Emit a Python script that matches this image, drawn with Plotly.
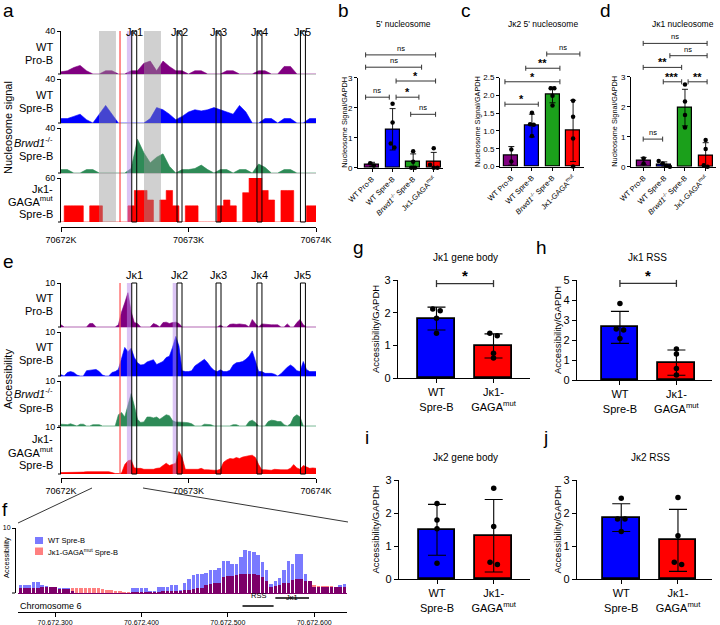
import numpy as np
import plotly.graph_objects as go

W, H = 720, 625
FONT = "Liberation Sans, Arial, Helvetica, sans-serif"

# ------------------------------------------------------------------ data
G0 = 70672000
GENE_NAMES = ["Jκ1", "Jκ2", "Jκ3", "Jκ4", "Jκ5"]
GENE_START = [70672555, 70672910, 70673216, 70673537, 70673878]
GENE_END = [70672594, 70672949, 70673255, 70673576, 70673917]
RSS_REGIONS = [(70672517, 70672553), (70672876, 70672908)]
NUC_REGIONS = [(70672298, 70672431), (70672651, 70672784)]
GAGA_SITE = 70672463
GENOME_TICKS = [70672000, 70673000, 70674000]
GENOME_TICKTEXT = ["70672K", "70673K", "70674K"]

# panel a: nucleosome signal, 50 bp bins from 70672000
A_STEP = 50
A_PROB = [2, 3, 6, 8, 3, 0, 0, 3, 3, 0, 0, 3, 3, 10, 12, 3, 12, 7, 3, 3, 0,
          3, 3, 0, 0, 0, 3, 3, 0, 0, 0, 3, 3, 0, 0, 7, 7, 0, 0, 0, 0]
A_SPRE = [4, 4, 6, 8, 3, 0, 8, 16, 8, 0, 0, 0, 0, 0, 4, 14, 12, 8, 3, 6, 10,
          12, 11, 12, 14, 12, 10, 8, 16, 10, 0, 0, 4, 4, 0, 4, 4, 0, 0, 4, 4]
A_BRWD = [3, 3, 0, 0, 3, 3, 0, 0, 0, 0, 0, 4, 30, 18, 9, 14, 17, 6, 0, 3, 3,
          4, 7, 3, 0, 3, 3, 0, 3, 3, 0, 8, 5, 0, 0, 3, 3, 0, 0, 0, 0]
A_GAGA = [0, 22, 22, 22, 0, 22, 22, 0, 0, 0, 0, 22, 43, 43, 30, 0, 30, 43, 22, 0, 22,
          22, 0, 0, 0, 22, 30, 22, 0, 40, 60, 60, 43, 30, 0, 43, 43, 0, 0, 22, 22]
A_MAX = [40, 40, 40, 60]

# panel e: accessibility, 25 bp bins from 70672000
E_STEP = 25
E_PROB = [0.5, 0, 0, 0, 0, 0, 0, 0, 0, 0.8,
          0.8, 0, 0, 0, 0, 0, 0, 0, 0.5, 3.4,
          5.5, 7.8, 3.5, 1.0, 0.8, 0, 0, 0, 0, 0.8,
          0.5, 0, 1.0, 1.1, 0.8, 1.0, 1.1, 0.8, 0, 0,
          0, 0, 0, 0, 0, 0, 0, 0, 0, 0,
          0.4, 0, 0, 0.6, 0.7, 0.6, 0.7, 0.6, 0.5, 0,
          1.7, 0.8, 0, 0.7, 0.6, 0.5, 0.5, 0.5, 0.5, 0,
          0, 0.7, 0, 0, 1.0, 1.7, 0.5, 0, 0, 0,
          0]
E_SPRE = [0.3, 0, 0.8, 1.0, 0.8, 0.2, 0, 0, 1.2, 1.3,
          1.5, 1.5, 1.0, 0.2, 0, 0, 0.8, 1.0, 1.5, 4.0,
          6.5, 5.5, 6.3, 4.2, 3.0, 2.5, 2.6, 3.2, 3.5, 3.7,
          2.6, 3.0, 3.3, 4.2, 4.5, 6.5, 9.0, 6.8, 1.2, 1.0,
          1.0, 1.2, 2.3, 2.8, 3.3, 3.8, 3.0, 2.0, 1.3, 1.0,
          1.4, 1.0, 1.0, 1.3, 2.5, 3.0, 3.1, 3.3, 3.8, 4.5,
          5.7, 3.5, 1.0, 1.0, 0.6, 0.6, 0.6, 0.4, 0, 0.5,
          1.3, 2.0, 2.5, 2.0, 1.2, 1.0, 3.3, 1.5, 1.0, 1.0,
          1.0]
E_BRWD = [0.4, 0.4, 0.3, 0.5, 0.3, 0, 0.4, 0.4, 0, 0,
          0.3, 0.3, 0.3, 0, 0, 0, 0, 0, 2.5, 3.0,
          2.0, 4.5, 7.2, 4.5, 1.5, 0.8, 0.9, 2.0, 2.0, 1.8,
          2.0, 1.5, 2.0, 2.5, 2.3, 1.2, 0.9, 0.9, 0.8, 0.8,
          0.7, 0.5, 0, 0, 0, 0.4, 0.4, 0.3, 0, 0,
          0, 0, 0, 0, 0.3, 0.3, 0, 0, 0, 1.0,
          1.3, 0.8, 0, 0, 0, 1.0, 1.3, 1.2, 1.0, 1.0,
          0.3, 0, 0.5, 2.0, 2.5, 2.0, 0, 0, 0, 0,
          0]
E_GAGA = [0.3, 0.3, 0.3, 0.3, 0.4, 0.4, 0.3, 0.4, 0.5, 0.5,
          0.5, 0.5, 0.5, 0.5, 0.5, 0.5, 0.3, 0.1, 0.1, 0.2,
          2.0, 2.8, 3.0, 1.3, 1.2, 1.2, 1.0, 1.0, 1.1, 1.0,
          1.2, 1.3, 1.8, 2.3, 1.8, 2.0, 2.3, 4.8, 3.5, 1.0,
          1.0, 0.9, 0.9, 1.0, 1.2, 0.9, 0.9, 0.8, 0.8, 0.8,
          1.0, 2.5, 3.0, 3.3, 3.2, 3.5, 3.3, 3.6, 3.8, 3.9,
          4.0, 3.5, 2.0, 0.9, 0.9, 0.9, 0.8, 1.0, 0.9, 0.9,
          0.9, 0.9, 1.2, 2.0, 1.3, 1.0, 1.8, 1.5, 1.2, 1.3,
          1.2]
E_MAX = 10

# panel f: zoomed accessibility, 5 bp bins from 70672255
F_START, F_STEP = 70672255, 5
F_WT = [1.2, 1.2, 1.2, 1.3, 1.7, 1.7, 1.2, 1.1, 1.0, 1.0,
        0.8, 0.8, 0.8, 0.2, 0, 0, 0, 0, 0, 0,
        0, 0, 0, 0, 0, 0, 0, 0.7, 0.7, 0.7,
        0.7, 0.25, 0.25, 1.0, 1.0, 1.0, 1.3, 1.2, 0.5, 1.5,
        2.2, 2.8, 2.9, 3.0, 3.1, 3.5, 3.6, 3.8, 5.0, 5.0,
        4.4, 4.5, 5.6, 6.6, 6.4, 6.3, 5.8, 4.8, 3.5, 1.4,
        1.8, 2.3, 3.6, 5.0, 4.4, 6.0, 6.0, 3.0, 1.8, 1.0,
        1.0, 1.0, 1.0, 1.0, 1.0, 1.3, 1.4, 1.4, 1.3]
F_GAGA = [0.7, 0.7, 0.7, 0.7, 0.7, 0.8, 0.9, 0.9, 0.9, 0.9,
          0.6, 0.6, 0.6, 0.7, 0.7, 0.7, 0.7, 0.7, 0.7, 0.7,
          0.6, 0.45, 0.4, 0.35, 0.2, 0.1, 0.1, 0.1, 0.1, 0.1,
          0.1, 0.1, 0.1, 0.15, 0.25, 0.25, 0.25, 0.3, 0.3, 0.5,
          0.5, 0.6, 0.75, 0.8, 1.3, 1.4, 1.5, 1.6, 2.4, 2.6,
          2.6, 2.7, 3.0, 3.0, 3.0, 3.0, 2.8, 2.5, 1.8, 1.0,
          1.1, 1.3, 1.5, 1.5, 2.0, 2.1, 2.1, 1.9, 1.8, 1.3,
          1.1, 1.1, 1.1, 1.1, 1.0, 0.9, 0.9, 0.9, 0.9]
F_RANGE = [70672257, 70672638]
F_TICKS = [70672300, 70672400, 70672500, 70672600]

# bar charts
CATS4 = ["WT Pro-B", "WT Spre-B", "<i>Brwd1</i><sup>-/-</sup> Spre-B", "Jκ1-GAGA<sup>mut</sup>"]
CATS2 = ["WT<br>Spre-B", "Jκ1-<br>GAGA<sup>mut</sup>"]

B_MEAN = [0.11, 1.28, 0.19, 0.19]
B_SD = [0.07, 0.69, 0.27, 0.32]
B_PTS = [[0.07, 0.15], [2.13, 1.51, 0.81, 0.67], [0.55, 0.2, 0.0, 0.0], [0.65, 0.1, 0.0, 0.0]]
B_SIG = [(-0.31, 0.84, 2.35, "ns"), (1.17, 2.28, 2.35, "*"), (1.88, 3.09, 1.78, "ns"),
         (1.17, 3.09, 2.89, "*"), (-0.31, 2.41, 3.35, "ns"), (-0.31, 3.09, 3.76, "ns")]

C_MEAN = [0.30, 1.15, 2.01, 1.0]
C_SD = [0.26, 0.32, 0.22, 0.86]
C_PTS = [[0.48, 0.14], [1.51, 1.19, 1.17, 0.86], [2.2, 2.2, 1.99, 1.71], [1.85, 1.4, 0.79, 0.0]]
C_SIG = [(-0.31, 1.31, 1.75, "*"), (-0.31, 2.36, 2.38, "*"), (0.7, 2.36, 2.76, "**"),
         (1.72, 3.33, 3.16, "ns")]

D_MEAN = [0.19, 0.08, 1.97, 0.38]
D_SD = [0.12, 0.08, 0.61, 0.42]
D_PTS = [[0.11, 0.27], [0.0, 0.03, 0.11, 0.19], [2.74, 2.17, 1.72, 1.31], [0.89, 0.59, 0.0, 0.05]]
D_SIG = [(-0.02, 0.92, 0.92, "ns"), (0.95, 1.84, 2.83, "***"), (2.15, 3.07, 2.83, "**"),
         (-0.02, 1.84, 3.31, "**"), (1.27, 3.07, 3.7, "ns"), (-0.02, 3.07, 4.11, "ns")]

G_MEAN = [1.82, 0.98]
G_SD = [0.35, 0.37]
G_PTS = [[2.06, 2.11, 1.83, 1.37], [1.29, 1.37, 0.76, 0.61]]
G_SIG = [(0, 1, 2.89, "*")]

H_MEAN = [2.63, 0.87]
H_SD = [0.8, 0.63]
H_PTS = [[3.83, 2.5, 2.55, 2.08], [1.55, 1.3, 0.58, 0.25]]
H_SIG = [(0, 1, 4.83, "*")]

I_MEAN = [1.49, 1.31]
I_SD = [0.77, 1.1]
I_PTS = [[2.29, 1.79, 1.52, 0.48], [2.75, 1.59, 0.44, 0.51]]

J_MEAN = [1.86, 1.17]
J_SD = [0.42, 0.94]
J_PTS = [[2.45, 1.82, 1.82, 1.44], [2.47, 1.31, 0.44, 0.51]]

# ------------------------------------------------------------------ styles
PURPLE, BLUE, GREEN, RED = "#800080", "#0000ff", "#2e8b57", "#ff0000"
BAR4 = ["#800080", "#0000ff", "#1ba01b", "#ff0000"]
BAR2 = ["#0000ff", "#ff0000"]


def X(px):
    return px / W


def Y(py):
    return 1 - py / H


def xname(k):
    return "x" if k == 1 else f"x{k}"


def yname(k):
    return "y" if k == 1 else f"y{k}"


def xkey(k):
    return "xaxis" if k == 1 else f"xaxis{k}"


def ykey(k):
    return "yaxis" if k == 1 else f"yaxis{k}"


fig = go.Figure()
layout = {}
shapes = []
annots = []


def txt(px, py, text, size, **kw):
    d = dict(x=X(px), y=Y(py), xref="paper", yref="paper", text=text, showarrow=False,
             font=dict(size=size, family=FONT, color="black"), xanchor="center", yanchor="middle")
    d.update(kw)
    annots.append(d)


def pline(x0, y0, x1, y1, color="black", width=1):
    shapes.append(dict(type="line", xref="paper", yref="paper", x0=X(x0), y0=Y(y0),
                       x1=X(x1), y1=Y(y1), line=dict(color=color, width=width)))


# ------------------------------------------------------------------ tracks (a, e)
TRACK_X = (61, 316)
TRACK_LABELS = [["WT", "Pro-B"], ["WT", "Spre-B"], ["<i>Brwd1</i><sup>-/-</sup>", "Spre-B"],
                ["Jκ1-", "GAGA<sup>mut</sup>", "Spre-B"]]


def add_tracks(k0, tops, data, step, maxes, colors, shapes_hv, base_colors, label_y, axis_y):
    positions = [G0 + step * i for i in range(len(data[0]))]
    n = len(data)
    for t in range(n):
        k = k0 + t
        top, bot = tops[t]
        last = t == n - 1
        xa = dict(domain=[X(TRACK_X[0]), X(TRACK_X[1])], range=[G0, G0 + 2000],
                  showgrid=False, zeroline=False, showline=True, linewidth=1,
                  linecolor=base_colors[t], ticks="", showticklabels=False, tickvals=[],
                  anchor=yname(k))
        if last:
            xa.update(anchor="free", position=Y(axis_y), linecolor="black", ticks="outside",
                      ticklen=4, tickcolor="black", showticklabels=True,
                      tickvals=GENOME_TICKS, ticktext=GENOME_TICKTEXT,
                      tickfont=dict(size=9, family=FONT, color="black"))
        layout[xkey(k)] = xa
        layout[ykey(k)] = dict(domain=[Y(bot), Y(top)], range=[0, maxes[t]], anchor=xname(k),
                               showgrid=False, zeroline=False, showline=True, linecolor="black",
                               linewidth=1, ticks="outside", ticklen=3, tickcolor="black",
                               tickvals=[maxes[t]],
                               tickfont=dict(size=9, family=FONT, color="black"))
        pline(TRACK_X[0] - 3, bot, TRACK_X[0], bot)
        fig.add_trace(go.Scatter(x=positions, y=data[t], mode="lines",
                                 line=dict(width=0.6, color=colors[t], shape=shapes_hv[t]),
                                 fill="tozeroy", fillcolor=colors[t],
                                 xaxis=xname(k), yaxis=yname(k), hoverinfo="skip"))
        for line, ly in zip(TRACK_LABELS[t], label_y[t]):
            txt(55, ly, line, 11, xanchor="right")


A_TOPS = [(31, 74), (79, 123), (128, 173), (178, 222)]
add_tracks(1, A_TOPS, [A_PROB, A_SPRE, A_BRWD, A_GAGA], A_STEP, A_MAX,
           [PURPLE, BLUE, GREEN, RED], ["linear", "linear", "linear", "hvh"],
           ["#cccccc", "#cccccc", "#cccccc", "black"],
           [(47, 60), (95, 108), (142, 156), (189, 201, 214)], 227)

E_TOPS = [(283, 327), (332, 376), (381, 426), (427, 474)]
add_tracks(5, E_TOPS, [E_PROB, E_SPRE, E_BRWD, E_GAGA], E_STEP, [E_MAX] * 4,
           [PURPLE, BLUE, GREEN, RED], ["linear"] * 4,
           ["#d9b3d9", "#b3b3ff", "#b9dcc8", "black"],
           [(298, 311), (347, 360), (393, 408), (439, 452, 465)], 478)

# overlays for panel a
a_top, a_bot = A_TOPS[0][0], A_TOPS[-1][1]
for s, e in NUC_REGIONS:
    shapes.append(dict(type="rect", xref="x", yref="paper", x0=s, x1=e, y0=Y(a_bot), y1=Y(a_top),
                       fillcolor="rgba(150,150,150,0.45)", line=dict(width=0), layer="above"))
s, e = RSS_REGIONS[0]
shapes.append(dict(type="rect", xref="x", yref="paper", x0=s, x1=e, y0=Y(a_bot), y1=Y(a_top),
                   fillcolor="rgba(185,140,235,0.5)", line=dict(width=0), layer="above"))
shapes.append(dict(type="line", xref="x", yref="paper", x0=GAGA_SITE, x1=GAGA_SITE,
                   y0=Y(a_bot), y1=Y(a_top), line=dict(color="#ff2020", width=1), layer="above"))
for name, s, e in zip(GENE_NAMES, GENE_START, GENE_END):
    shapes.append(dict(type="rect", xref="x", yref="paper", x0=s, x1=e, y0=Y(a_bot), y1=Y(a_top),
                       line=dict(color="black", width=1), fillcolor="rgba(0,0,0,0)", layer="above"))
    annots.append(dict(x=(s + e) / 2, y=Y(24), xref="x", yref="paper", text=name, showarrow=False,
                       font=dict(size=11, family=FONT, color="black")))

# overlays for panel e
e_top, e_bot = E_TOPS[0][0], E_TOPS[-1][1]
for s, e in RSS_REGIONS:
    shapes.append(dict(type="rect", xref="x5", yref="paper", x0=s, x1=e, y0=Y(e_bot), y1=Y(e_top),
                       fillcolor="rgba(185,140,235,0.5)", line=dict(width=0), layer="above"))
shapes.append(dict(type="line", xref="x5", yref="paper", x0=GAGA_SITE, x1=GAGA_SITE,
                   y0=Y(e_bot), y1=Y(e_top), line=dict(color="rgba(255,90,90,0.85)", width=1.5),
                   layer="above"))
for name, s, e in zip(GENE_NAMES, GENE_START, GENE_END):
    shapes.append(dict(type="rect", xref="x5", yref="paper", x0=s, x1=e, y0=Y(e_bot), y1=Y(e_top),
                       line=dict(color="black", width=1), fillcolor="rgba(0,0,0,0)", layer="above"))
    annots.append(dict(x=(s + e) / 2, y=Y(275), xref="x5", yref="paper", text=name, showarrow=False,
                       font=dict(size=11, family=FONT, color="black")))

txt(8, 128, "Nucleosome signal", 11, textangle=-90)
txt(8, 379, "Accessibility", 11, textangle=-90)

# ------------------------------------------------------------------ panel f
K = 9
f_pos = [F_START + F_STEP * i for i in range(len(F_WT))]
f_min = [min(a, b) for a, b in zip(F_WT, F_GAGA)]
layout[xkey(K)] = dict(domain=[X(18), X(347)], range=F_RANGE, anchor="free", position=Y(612),
                       showgrid=False, zeroline=False, showline=True, linecolor="black", linewidth=1,
                       ticks="outside", ticklen=4, tickcolor="black", tickvals=F_TICKS,
                       tickformat=",d", tickfont=dict(size=7, family=FONT, color="black"))
layout[ykey(K)] = dict(domain=[Y(593), Y(528)], range=[0, 10], anchor="free", position=X(15),
                       showgrid=False, zeroline=False, showline=True, linecolor="black", linewidth=1,
                       ticks="outside", ticklen=3, tickcolor="black", tickvals=[10],
                       tickfont=dict(size=7, family=FONT, color="black"))
pline(12, 593, 15, 593)
for vals, col in [(F_WT, "rgb(122,122,255)"), (F_GAGA, "rgb(255,128,128)"), (f_min, "rgb(125,0,105)")]:
    fig.add_trace(go.Bar(x=f_pos, y=vals, width=F_STEP * 0.82, marker=dict(color=col, line=dict(width=0)),
                         xaxis=xname(K), yaxis=yname(K), hoverinfo="skip"))
pline(18, 593.5, 347, 593.5, "rgb(125,0,105)", 1.2)
# legend of f
shapes.append(dict(type="rect", xref="paper", yref="paper", x0=X(35), x1=X(43), y0=Y(544), y1=Y(537),
                   fillcolor="rgb(122,122,255)", line=dict(width=0)))
shapes.append(dict(type="rect", xref="paper", yref="paper", x0=X(35), x1=X(43), y0=Y(555), y1=Y(547.5),
                   fillcolor="rgb(255,128,128)", line=dict(width=0)))
txt(45.5, 540.5, "WT Spre-B", 7.5, xanchor="left")
txt(45.5, 551.5, "Jκ1-GAGA<sup>mut</sup> Spre-B", 7.5, xanchor="left")
txt(6, 558, "Accessibility", 7.5, textangle=-90)
txt(18, 606, "Chromosome 6", 9, xanchor="left")
# RSS and J bars
s, e = RSS_REGIONS[0]
shapes.append(dict(type="line", xref=xname(K), yref="paper", x0=s, x1=e, y0=Y(606), y1=Y(606),
                   line=dict(color="black", width=1.5)))
annots.append(dict(x=(s + e) / 2, y=Y(601.5), xref=xname(K), yref="paper", text="RSS", showarrow=False,
                   font=dict(size=7.5, family=FONT, color="black")))
s, e = GENE_START[0], GENE_END[0]
shapes.append(dict(type="line", xref=xname(K), yref="paper", x0=s, x1=e, y0=Y(598), y1=Y(598),
                   line=dict(color="black", width=1.5)))
annots.append(dict(x=(s + e) / 2, y=Y(604), xref=xname(K), yref="paper", text="Jκ1", showarrow=False,
                   font=dict(size=7.5, family=FONT, color="black")))
# zoom connector lines
pline(92, 488, 18, 523, width=0.8)
pline(143, 488, 348, 522, width=0.8)


# ------------------------------------------------------------------ bar charts
def jitter(vals, thr, step):
    vals = np.asarray(vals, float)
    order = list(np.argsort(-vals))
    offs = np.zeros(len(vals))
    clusters, cur = [], [order[0]]
    for a, b in zip(order[:-1], order[1:]):
        if vals[a] - vals[b] < thr:
            cur.append(b)
        else:
            clusters.append(cur)
            cur = [b]
    clusters.append(cur)
    for c in clusters:
        m = len(c)
        for j, idx in enumerate(c):
            offs[idx] = (j - (m - 1) / 2) * step
    return offs


def add_bars(k, xdom, xr, ydom, yr, cats, colors, means, sds, pts, sigs, title, title_xy,
             ytitle, ytitle_x, small, yticks, ytickfmt=None):
    fs_tick = 7.5 if small else 11
    lw = 1 if small else 1.4
    layout[xkey(k)] = dict(domain=[X(xdom[0]), X(xdom[1])], range=list(xr), anchor=yname(k),
                           showgrid=False, zeroline=False, showline=True, linecolor="black",
                           linewidth=lw, ticks="outside", ticklen=3 if small else 4, tickcolor="black",
                           tickvals=list(range(len(cats))), ticktext=cats,
                           tickangle=-45 if small else 0,
                           tickfont=dict(size=fs_tick, family=FONT, color="black"))
    ya = dict(domain=[Y(ydom[1]), Y(ydom[0])], range=list(yr), anchor=xname(k),
              showgrid=False, zeroline=False, showline=True, linecolor="black", linewidth=lw,
              ticks="outside", ticklen=3 if small else 4, tickcolor="black", tickvals=yticks,
              tickfont=dict(size=8 if small else 11, family=FONT, color="black"))
    if ytickfmt:
        ya["tickformat"] = ytickfmt
    layout[ykey(k)] = ya
    n = len(cats)
    fig.add_trace(go.Bar(x=list(range(n)), y=means, width=0.68 if small else 0.65,
                         marker=dict(color=colors, line=dict(color="black", width=1.2 if small else 1.8)),
                         error_y=dict(type="data", array=sds, color="black",
                                      thickness=0.9 if small else 1.1, width=3 if small else 9),
                         xaxis=xname(k), yaxis=yname(k), cliponaxis=False, hoverinfo="skip"))
    span = yr[1] - yr[0]
    px_, py_ = [], []
    for i, p in enumerate(pts):
        offs = jitter(p, 0.05 * span, 0.18 if small else 0.13)
        px_ += list(i + offs)
        py_ += list(p)
    fig.add_trace(go.Scatter(x=px_, y=py_, mode="markers",
                             marker=dict(color="black", size=4.5 if small else 5.5),
                             xaxis=xname(k), yaxis=yname(k), cliponaxis=False, hoverinfo="skip"))

    def mx(v):
        return xdom[0] + (v - xr[0]) / (xr[1] - xr[0]) * (xdom[1] - xdom[0])

    def my(v):
        return ydom[1] - (v - yr[0]) / (yr[1] - yr[0]) * (ydom[1] - ydom[0])

    cap = 2.5 if small else 3.5
    for x0, x1, yv, lab in sigs:
        a, b, yy = mx(x0), mx(x1), my(yv)
        w = 1 if small else 1.3
        pline(a, yy, b, yy, "#333333", w)
        pline(a, yy - cap, a, yy + cap, "#333333", w)
        pline(b, yy - cap, b, yy + cap, "#333333", w)
        if lab == "ns":
            txt((a + b) / 2, yy - 6.5, "ns", 7.5 if small else 10)
        else:
            txt((a + b) / 2, yy - (5 if small else 8), "<b>" + lab + "</b>", 11 if small else 15)
    txt(title_xy[0], title_xy[1], title, 8.5 if small else 10)
    txt(ytitle_x, (ydom[0] + ydom[1]) / 2, ytitle, 7.3 if small else 9.5, textangle=-90)


NSG = "Nucleosome Signal/GAPDH"
ACC = "Accessibility/GAPDH"
add_bars(10, (358, 443), (-0.68, 3.45), (77.7, 167.7), (0, 3), CATS4, BAR4, B_MEAN, B_SD, B_PTS, B_SIG,
         "5' nucleosome", (403, 24), NSG, 345, True, [0, 1, 2, 3])
add_bars(11, (500, 584), (-0.55, 3.53), (77.5, 166.5), (0, 2.5), CATS4, BAR4, C_MEAN, C_SD, C_PTS, C_SIG,
         "Jκ2 5' nucleosome", (543, 24), NSG, 477, True, [0, 0.5, 1, 1.5, 2, 2.5], ".1f")
add_bars(12, (631, 716), (-0.61, 3.5), (76.7, 166.7), (0, 3), CATS4, BAR4, D_MEAN, D_SD, D_PTS, D_SIG,
         "Jκ1 nucleosome", (683, 24), NSG, 615, True, [0, 1, 2, 3])
add_bars(13, (398, 530), (-0.675, 1.64), (280, 378), (0, 3), CATS2, BAR2, G_MEAN, G_SD, G_PTS, G_SIG,
         "Jκ1 gene body", (465, 257), ACC, 375, False, [0, 1, 2, 3])
add_bars(14, (577, 712), (-0.76, 1.63), (280, 380), (0, 5), CATS2, BAR2, H_MEAN, H_SD, H_PTS, H_SIG,
         "Jκ1 RSS", (647, 257), ACC, 557, False, [0, 1, 2, 3, 4, 5])
add_bars(15, (399, 530), (-0.67, 1.64), (480, 579), (0, 3), CATS2, BAR2, I_MEAN, I_SD, I_PTS, [],
         "Jκ2 gene body", (465, 457), ACC, 375, False, [0, 1, 2, 3])
add_bars(16, (577, 712), (-0.78, 1.6), (480, 579), (0, 3), CATS2, BAR2, J_MEAN, J_SD, J_PTS, [],
         "Jκ2 RSS", (650, 457), ACC, 557, False, [0, 1, 2, 3])

# panel letters
for letter, (lx, ly) in {"a": (8, 11), "b": (343, 11), "c": (466, 11), "d": (605, 11),
                         "e": (8, 261), "f": (5, 509), "g": (358, 247), "h": (541, 247),
                         "i": (367, 437), "j": (545, 437)}.items():
    txt(lx, ly, letter, 19)

for key, ax in layout.items():
    if key.startswith("xaxis") or key.startswith("yaxis"):
        ax["automargin"] = False

layout.update(dict(width=W, height=H, margin=dict(l=0, r=0, t=0, b=0, pad=0, autoexpand=False),
                   showlegend=False, barmode="overlay", bargap=0,
                   plot_bgcolor="white", paper_bgcolor="white",
                   font=dict(family=FONT, color="black"), shapes=shapes, annotations=annots,
                   hovermode=False))
fig.update_layout(**layout)
fig.write_html("out.html")
